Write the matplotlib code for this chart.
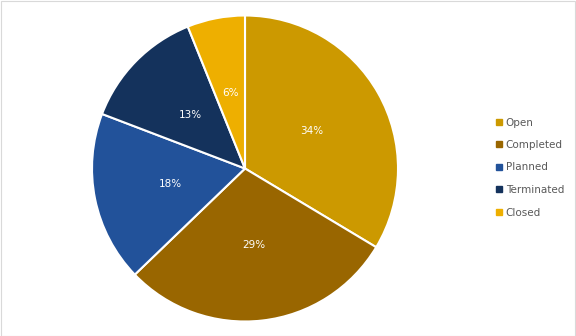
import matplotlib
matplotlib.use("Agg")
import matplotlib.pyplot as plt
from matplotlib.patches import Rectangle
from matplotlib.lines import Line2D

categories = ["Open", "Completed", "Planned", "Terminated", "Closed"]
values = [33.6, 29.2, 18.0, 13.1, 6.1]
labels = ["34%", "29%", "18%", "13%", "6%"]
colors = ["#CC9900", "#996600", "#22529A", "#14325C", "#EEAF00"]

W, H = 576, 336
fig = plt.figure(figsize=(W / 100, H / 100), dpi=100)
fig.patch.set_facecolor("white")

# chart border
fig.add_artist(Rectangle((0.5 / W, 0.5 / H), 1 - 1.5 / W, 1 - 1.5 / H,
                         transform=fig.transFigure, fill=False,
                         edgecolor="#D9D9D9", linewidth=0.8))

cx, cy, r = 245, 168.5, 153
ax = fig.add_axes([(cx - r) / W, (H - cy - r) / H, 2 * r / W, 2 * r / H])
wedges, texts = ax.pie(
    values, colors=colors, startangle=90, counterclock=False,
    wedgeprops=dict(edgecolor="white", linewidth=1.5))
import numpy as np
for w, lab in zip(wedges, labels):
    ang = np.deg2rad((w.theta1 + w.theta2) / 2)
    ax.text(0.5 * np.cos(ang), 0.5 * np.sin(ang), lab, color="white",
            fontsize=7.5, ha="center", va="center")
ax.set_xlim(-1, 1)
ax.set_ylim(-1, 1)
ax.set_aspect("equal")
ax.axis("off")

handles = [Line2D([], [], marker="s", linestyle="none", markersize=4.5,
                  markerfacecolor=c, markeredgecolor=c) for c in colors]
leg = fig.legend(handles, categories, loc="center left",
                 bbox_to_anchor=(486 / W, 1 - 167.5 / H), frameon=False,
                 fontsize=7.5, labelcolor="#595959", handlelength=0.6,
                 handletextpad=0.4, labelspacing=1.2)

fig.savefig("out.png", dpi=100)
